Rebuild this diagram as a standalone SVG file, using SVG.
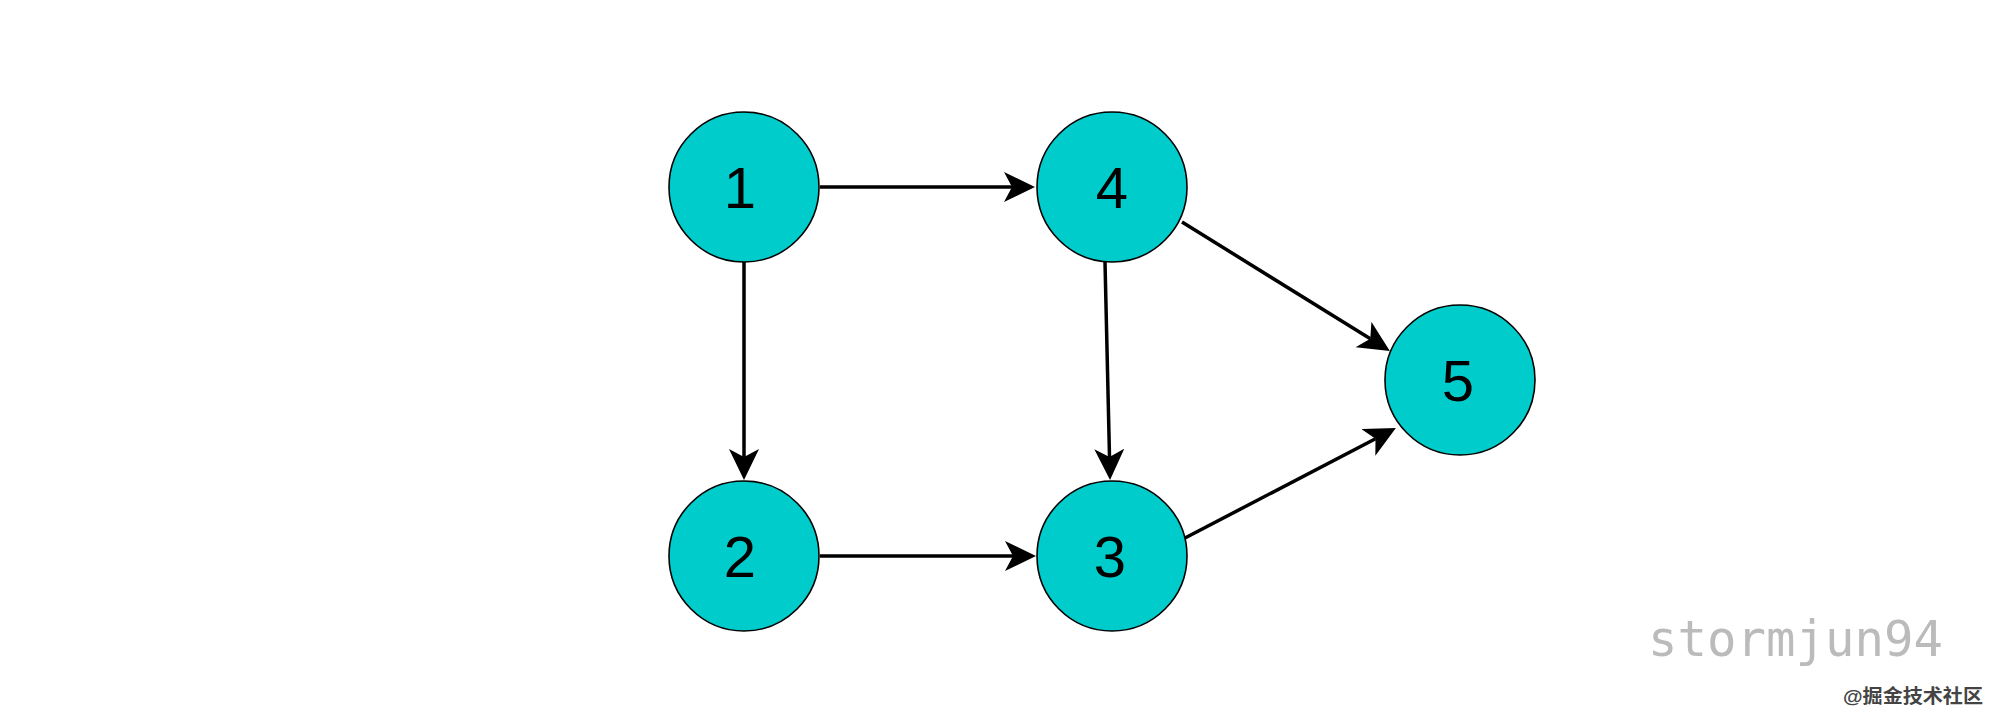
<svg xmlns="http://www.w3.org/2000/svg" width="2000" height="721" viewBox="0 0 2000 721">
<style>
.node circle{fill:#00CCCC;stroke:#000;stroke-width:1.6}
.node text{font-family:"Liberation Sans",Arial,sans-serif;font-size:58px;fill:#000;text-anchor:middle}
.edge{stroke:#000;stroke-width:3.5;fill:none;marker-end:url(#arrow)}
</style>
<defs>
<marker id="arrow" markerUnits="userSpaceOnUse" markerWidth="34" markerHeight="32" refX="8" refY="15" orient="auto">
<path d="M0,0 L31,15 L0,30 L8,15 Z" fill="#000"/>
</marker>
</defs>
<rect width="2000" height="721" fill="#fff"/>
<g id="connectors">
<line class="edge" x1="820" y1="187" x2="1012" y2="187"/>
<line class="edge" x1="744" y1="262" x2="744" y2="457"/>
<line class="edge" x1="820" y1="556" x2="1013" y2="556"/>
<line class="edge" x1="1105" y1="262" x2="1109.5" y2="457"/>
<line class="edge" x1="1182" y1="222" x2="1370.3" y2="338.8"/>
<line class="edge" x1="1185" y1="538" x2="1375.5" y2="438.7"/>
</g>
<g id="node1" class="node"><circle cx="744" cy="187" r="75"/><text x="740" y="208">1</text></g>
<g id="node4" class="node"><circle cx="1112" cy="187" r="75"/><text x="1112" y="208">4</text></g>
<g id="node2" class="node"><circle cx="744" cy="556" r="75"/><text x="740" y="577">2</text></g>
<g id="node3" class="node"><circle cx="1112" cy="556" r="75"/><text x="1110" y="577">3</text></g>
<g id="node5" class="node"><circle cx="1460" cy="380" r="75"/><text x="1458" y="401">5</text></g>
<g id="watermark">
<text x="1648" y="656" font-family="'DejaVu Sans Mono',monospace" font-size="50" fill="#bbbbbb" textLength="295" lengthAdjust="spacingAndGlyphs">stormjun94</text>
<text x="1843" y="703" font-family="'Liberation Sans','Noto Sans CJK SC',sans-serif" font-size="19" font-weight="bold" fill="#444" textLength="140" lengthAdjust="spacingAndGlyphs">@掘金技术社区</text>
</g>
</svg>
